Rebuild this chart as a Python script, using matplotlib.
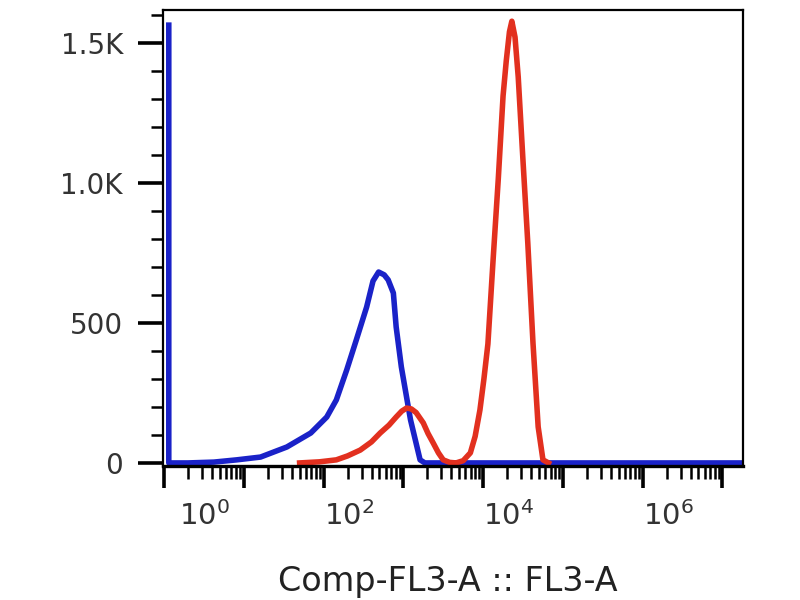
import numpy as np
import matplotlib.pyplot as plt
from matplotlib.ticker import FixedLocator, LogLocator, MultipleLocator, NullFormatter
from matplotlib.transforms import ScaledTranslation

# histogram outlines
# x is given in decades (log10 of the channel value), y is the count
blue_dec = [0.06, 0.06, 0.3, 0.625, 0.91, 1.21, 1.54, 1.84, 2.04, 2.16, 2.29, 2.41,
            2.54, 2.62, 2.69, 2.76, 2.81, 2.875, 2.91, 2.975, 3.09, 3.21, 3.27, 7.3]
blue_cnt = [1564, 0, 0, 3, 11, 21, 57, 107, 164, 225, 332, 439,
            557, 650, 682, 672, 654, 607, 486, 343, 154, 11, 0, 0]

red_dec = [1.7, 1.95, 2.16, 2.3, 2.46, 2.6, 2.71, 2.82, 2.91, 2.98, 3.04, 3.1,
           3.16, 3.25, 3.31, 3.375, 3.44, 3.5, 3.58, 3.66, 3.75, 3.84, 3.9, 3.96,
           4.01, 4.06, 4.125, 4.19, 4.25, 4.29, 4.33, 4.36, 4.4, 4.44, 4.5, 4.56,
           4.625, 4.69, 4.75, 4.82]
red_cnt = [0, 4, 11, 25, 46, 75, 107, 135, 164, 185, 196, 193,
           180, 143, 105, 71, 36, 11, 2, 0, 8, 36, 95, 189,
           300, 425, 725, 1014, 1311, 1436, 1540, 1578, 1521, 1379, 1079, 786,
           429, 129, 11, 0]

x_tick_dec = [0, 1, 2, 3, 4, 5, 6, 7]
x_tick_labels = ['$10^{0}$', '', '$10^{2}$', '', '$10^{4}$', '', '$10^{6}$', '']
y_ticks = [0, 500, 1000, 1500]
y_tick_labels = ['0', '500', '1.0K', '1.5K']

fig = plt.figure(figsize=(8, 6), dpi=100)
ax = fig.add_axes([0.204, 0.2233, 0.725, 0.76])

ax.plot(10 ** np.array(blue_dec), blue_cnt, color='#1a22c8', lw=4, solid_joinstyle='round')
ax.plot(10 ** np.array(red_dec), red_cnt, color='#e2301f', lw=4, solid_joinstyle='round')

ax.set_xscale('log')
ax.set_xlim(10 ** -0.01, 10 ** 7.26)
ax.set_ylim(-11, 1618)

ax.xaxis.set_major_locator(FixedLocator([10.0 ** d for d in x_tick_dec]))
ax.set_xticklabels(x_tick_labels)
ax.xaxis.set_minor_locator(LogLocator(base=10, subs=range(2, 10), numticks=100))
ax.xaxis.set_minor_formatter(NullFormatter())

ax.set_yticks(y_ticks)
ax.set_yticklabels(y_tick_labels)
ax.yaxis.set_minor_locator(MultipleLocator(100))

ax.tick_params(axis='both', which='major', direction='out', width=2.6, color='black',
               labelcolor='#333333')
ax.tick_params(axis='x', which='major', length=16, pad=9, labelsize=21)
ax.tick_params(axis='y', which='major', length=18, pad=11, labelsize=20)
ax.tick_params(axis='both', which='minor', direction='out', width=1.8, length=9, color='black')
ax.tick_params(top=False, right=False, which='both')

# labels start at their tick, the first one sits a bit further right
for lbl in ax.get_xticklabels():
    lbl.set_horizontalalignment('left')
ax.get_xticklabels()[0].set_transform(
    ax.get_xticklabels()[0].get_transform() + ScaledTranslation(0.15, 0, fig.dpi_scale_trans))

for side in ['top', 'right', 'left']:
    ax.spines[side].set_linewidth(1.6)
ax.spines['bottom'].set_linewidth(2.4)

ax.set_xlabel('Comp-FL3-A :: FL3-A', fontsize=24, color='#222222')
ax.xaxis.set_label_coords(0.491, -0.218)

fig.savefig('out.png', dpi=100)
